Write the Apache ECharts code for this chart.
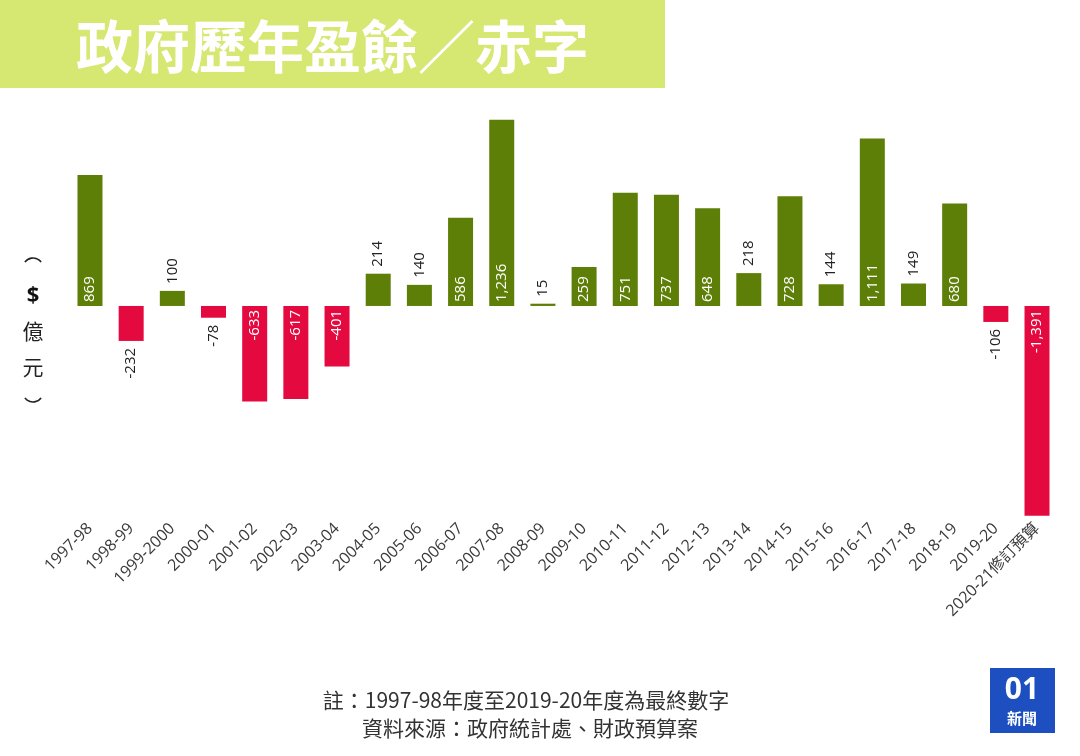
<!DOCTYPE html>
<html>
<head>
<meta charset="utf-8">
<script src="https://cdn.jsdelivr.net/npm/echarts@6/dist/echarts.min.js"></script>
<style>
html,body{margin:0;padding:0;background:#fff;}
#c{width:1080px;height:756px;}
</style>
</head>
<body>
<div id="c"></div>
<script>
const categories = ['1997-98','1998-99','1999-2000','2000-01','2001-02','2002-03','2003-04','2004-05','2005-06','2006-07','2007-08','2008-09','2009-10','2010-11','2011-12','2012-13','2013-14','2014-15','2015-16','2016-17','2017-18','2018-19','2019-20','2020-21修訂預算'];
const values = [869,-232,100,-78,-633,-617,-401,214,140,586,1236,15,259,751,737,648,218,728,144,1111,149,680,-106,-1391];
const titleText = '政府歷年盈餘／赤字';
const yAxisChars = ['$', '億', '元'];
const noteLines = ['註：1997-98年度至2019-20年度為最終數字', '資料來源：政府統計處、財政預算案'];

const GREEN = '#5e7f07';
const RED = '#e4093f';
const labelFont = '"Open Sans", "Noto Sans", sans-serif';

const data = values.map(v => {
  const inside = Math.abs(v) > 250;
  const pos = v >= 0;
  return {
    value: v,
    itemStyle: { color: pos ? GREEN : RED },
    label: {
      show: true,
      rotate: 90,
      position: pos ? (inside ? 'insideBottom' : 'top') : (inside ? 'insideTop' : 'bottom'),
      align: pos ? 'left' : 'right',
      verticalAlign: 'middle',
      distance: inside ? 4 : 7,
      color: inside ? '#ffffff' : '#222222',
      fontSize: 15,
      fontFamily: labelFont,
      formatter: p => p.value.toLocaleString('en-US')
    }
  };
});

const chart = echarts.init(document.getElementById('c'));
chart.setOption({
  animation: false,
  backgroundColor: '#ffffff',
  grid: { left: 69.4, right: 22.4, top: 110, bottom: 239, containLabel: false },
  xAxis: {
    type: 'category',
    data: categories,
    axisLine: { show: false },
    axisTick: { show: false },
    axisLabel: {
      rotate: 45,
      interval: 0,
      margin: 9,
      fontSize: 16,
      color: '#3a3a3a',
      fontFamily: '"Open Sans", "Noto Sans CJK TC", sans-serif'
    }
  },
  yAxis: {
    type: 'value',
    min: -1400,
    max: 1300,
    show: false,
    splitLine: { show: false }
  },
  series: [{
    type: 'bar',
    barWidth: 25,
    data: data
  }],
  graphic: [
    { type: 'rect', shape: { x: 0, y: 0, width: 665, height: 88 }, style: { fill: '#d6e772' }, z: 0 },
    { type: 'text', x: 76, y: 46, style: { text: titleText, fill: '#ffffff', font: 'bold 57px "Noto Sans CJK TC", sans-serif', verticalAlign: 'middle', textAlign: 'left' } },
    { type: 'arc', shape: { cx: 33, cy: 268, r: 10, startAngle: Math.PI * 1.2, endAngle: Math.PI * 1.8 }, style: { stroke: '#222222', lineWidth: 1.6, fill: null } },
    { type: 'text', x: 33, y: 296, style: { text: yAxisChars[0], fill: '#111111', font: 'bold 22px "Open Sans", sans-serif', textAlign: 'center', verticalAlign: 'middle' } },
    { type: 'text', x: 33, y: 331, style: { text: yAxisChars[1], fill: '#222222', font: '21px "Noto Sans CJK TC", sans-serif', textAlign: 'center', verticalAlign: 'middle' } },
    { type: 'text', x: 33, y: 367, style: { text: yAxisChars[2], fill: '#222222', font: '21px "Noto Sans CJK TC", sans-serif', textAlign: 'center', verticalAlign: 'middle' } },
    { type: 'arc', shape: { cx: 33, cy: 392, r: 10, startAngle: Math.PI * 0.2, endAngle: Math.PI * 0.8 }, style: { stroke: '#222222', lineWidth: 1.6, fill: null } },
    { type: 'text', x: 526, y: 700, style: { text: noteLines[0], fill: '#333333', font: '21px "Noto Sans CJK TC", sans-serif', textAlign: 'center', verticalAlign: 'middle' } },
    { type: 'text', x: 530, y: 728, style: { text: noteLines[1], fill: '#333333', font: '21px "Noto Sans CJK TC", sans-serif', textAlign: 'center', verticalAlign: 'middle' } },
    { type: 'rect', shape: { x: 990, y: 668, width: 65, height: 65 }, style: { fill: '#1d4fc0' } },
    { type: 'text', x: 1022, y: 690, style: { text: '01', fill: '#ffffff', font: 'bold 30px "Noto Sans", sans-serif', textAlign: 'center', verticalAlign: 'middle' } },
    { type: 'text', x: 1022, y: 718, style: { text: '新聞', fill: '#ffffff', font: 'bold 15px "Noto Sans CJK TC", sans-serif', textAlign: 'center', verticalAlign: 'middle' } }
  ]
});
</script>
</body>
</html>
